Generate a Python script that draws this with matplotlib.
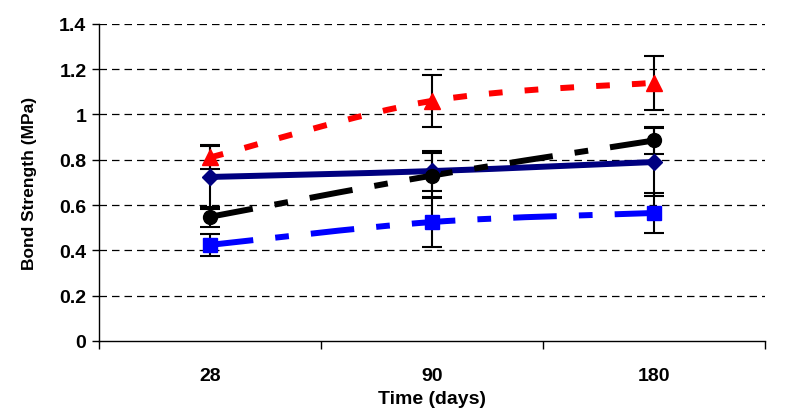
import numpy as np
import matplotlib.pyplot as plt
from matplotlib.path import Path
from matplotlib.patches import PathPatch

plt.rcParams['font.family'] = ['Liberation Sans', 'DejaVu Sans']
plt.rcParams['font.weight'] = 'bold'

days = ['28', '90', '180']

red_vals = [0.81, 1.06, 1.14]
red_err = [0.05, 0.115, 0.12]
navy_vals = [0.724, 0.75, 0.79]
navy_err = [0.14, 0.09, 0.15]
black_vals = [0.548, 0.73, 0.885]
black_err = [0.045, 0.10, 0.06]
blue_vals = [0.424, 0.525, 0.565]
blue_err = [0.05, 0.11, 0.09]


def smooth_path(x, y):
    # Excel style smoothed line: cubic bezier through the points
    pts = np.column_stack([x, y]).astype(float)
    n = len(pts)
    verts = [pts[0]]
    codes = [Path.MOVETO]
    for i in range(n - 1):
        p0 = pts[max(i - 1, 0)]
        p1 = pts[i]
        p2 = pts[i + 1]
        p3 = pts[min(i + 2, n - 1)]
        c1 = p1 + (p2 - p0) / 6
        c2 = p2 - (p3 - p1) / 6
        verts += [c1, c2, p2]
        codes += [Path.CURVE4] * 3
    return Path(verts, codes)


fig = plt.figure(figsize=(7.85, 4.14), dpi=100)
ax = fig.add_axes([0.126, 0.174, 0.8485, 0.766])
x = np.arange(len(days))

lw = 4.3
series = [
    (navy_vals, navy_err, '#000080', '-', 'D', 8),
    (black_vals, black_err, 'black', (0, (7.3, 3.7, 2.3, 3.7)), 'o', 10),
    (blue_vals, blue_err, '#0000FF', (0, (7.3, 3.7, 2.3, 3.7)), 's', 10),
    (red_vals, red_err, '#FF0000', (0, (2.3, 3.7)), '^', 11),
]

for vals, err, col, ls, mk, ms in series:
    ax.errorbar(x, vals, yerr=err, fmt='none', ecolor='black', elinewidth=1.5,
                capsize=7, capthick=1.5, zorder=3)

for vals, err, col, ls, mk, ms in series:
    patch = PathPatch(smooth_path(x, vals), facecolor='none', edgecolor=col,
                      linewidth=lw, linestyle=ls, capstyle='butt', zorder=4)
    ax.add_patch(patch)
    ax.plot(x, vals, linestyle='none', marker=mk, markersize=ms, color=col,
            markeredgecolor=col, zorder=5)

ax.set_xlim(-0.5, 2.5)
ax.set_ylim(0, 1.4)
ax.set_yticks(np.arange(0, 1.41, 0.2))
ax.set_yticklabels(['0', '0.2', '0.4', '0.6', '0.8', '1', '1.2', '1.4'])
for yv in np.arange(0.2, 1.41, 0.2):
    ax.axhline(yv, color='black', linewidth=0.9, linestyle=(0, (6, 4)), zorder=1)

ax.set_xticks([-0.5, 0.5, 1.5, 2.5])
ax.set_xticklabels([])
ax.set_xticks(x, minor=True)
ax.set_xticklabels(days, minor=True)
ax.tick_params(axis='x', which='major', direction='out', length=6, width=1)
ax.tick_params(axis='x', which='minor', length=0, pad=19, labelsize=14)
ax.tick_params(axis='y', direction='out', length=5, width=1, pad=4, labelsize=14)

ax.spines['top'].set_visible(False)
ax.spines['right'].set_visible(False)
ax.spines['left'].set_linewidth(1)
ax.spines['bottom'].set_linewidth(1)

ax.set_xlabel('Time (days)', fontsize=14, fontweight='bold', labelpad=4)
ax.set_ylabel('Bond Strength (MPa)', fontsize=12.5, fontweight='bold', labelpad=16)

fig.savefig('out.png', dpi=100)
